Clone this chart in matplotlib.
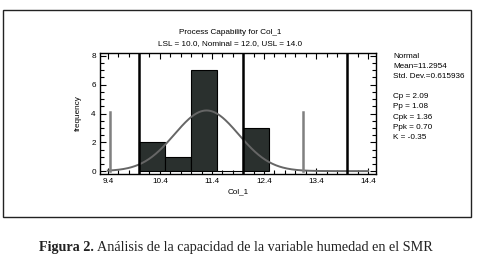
import numpy as np
import matplotlib.pyplot as plt
from matplotlib.ticker import MultipleLocator, FixedLocator
from matplotlib.patches import Rectangle

# histogram of Col_1
bin_edges = [10.0, 10.5, 11.0, 11.5, 12.0, 12.5]
counts = [2, 1, 7, 0, 3]
mean = 11.2954
std = 0.615936
n_obs = 13
spec_lines = [10.0, 12.0, 14.0]      # LSL, Nominal, USL
sigma_lines = [mean - 3 * std, mean + 3 * std]
xticks = [9.4, 10.4, 11.4, 12.4, 13.4, 14.4]
stats_text = ["Normal", "Mean=11.2954", "Std. Dev.=0.615936", "",
              "Cp = 2.09", "Pp = 1.08", "Cpk = 1.36", "Ppk = 0.70", "K = -0.35"]

W, H = 488, 266
fig = plt.figure(figsize=(W / 100, H / 100), dpi=100)
fig.patch.set_facecolor('white')

# frame around the chart
fig.add_artist(Rectangle((3 / W, 1 - 217 / H), 468 / W, 207 / H,
                         transform=fig.transFigure, fill=False,
                         edgecolor='#222222', linewidth=1.0))

ax = fig.add_axes([100 / W, 1 - 174 / H, 276 / W, 121 / H])
font = {'family': 'Liberation Sans', 'size': 5.9}

widths = np.diff(bin_edges)
ax.bar(bin_edges[:-1], counts, width=widths, align='edge',
       color='#2a302e', edgecolor='black', linewidth=0.8, zorder=2)

xs = np.linspace(9.4, 14.4, 300)
pdf = n_obs * 0.5 / (std * np.sqrt(2 * np.pi)) * np.exp(-0.5 * ((xs - mean) / std) ** 2)
ax.plot(xs, pdf, color='#666666', linewidth=1.4, zorder=3)

for v in sigma_lines:
    ax.plot([v, v], [0, 4.1], color='#808080', linewidth=1.8, zorder=3)
for v in spec_lines:
    ax.axvline(v, color='black', linewidth=1.8, zorder=4)

ax.set_xlim(9.25, 14.55)
ax.set_ylim(-0.2, 8.2)
ax.xaxis.set_major_locator(FixedLocator(xticks))
ax.xaxis.set_minor_locator(MultipleLocator(0.2))
ax.yaxis.set_major_locator(MultipleLocator(2))
ax.yaxis.set_minor_locator(MultipleLocator(0.5))
ax.tick_params(which='both', direction='in', top=True, right=True,
               width=0.8, labelsize=5.9, pad=3)
ax.tick_params(which='major', length=4)
ax.tick_params(which='minor', length=3)
ax.set_xticklabels([f"{t:.1f}" for t in xticks], fontdict=font)
ax.set_yticks([0, 2, 4, 6, 8])
ax.set_yticklabels(["0", "2", "4", "6", "8"], fontdict=font)
for s in ax.spines.values():
    s.set_linewidth(1.0)

ax.set_xlabel("Col_1", fontdict=font, labelpad=2)
ax.set_ylabel("frequency", fontdict=font, labelpad=7)

fig.text(230 / W, 1 - 33 / H, "Process Capability for Col_1", ha='center', va='center', **font)
fig.text(230 / W, 1 - 44 / H, "LSL = 10.0, Nominal = 12.0, USL = 14.0", ha='center', va='center', **font)

y0 = 56
for i, line in enumerate(stats_text):
    if line:
        fig.text(393 / W, 1 - (y0 + i * 10.2) / H, line, ha='left', va='center', **font)

# caption: bold label, then the rest right after it
cap = fig.text(39 / W, 1 - 248 / H, "Figura 2.", ha='left', va='center',
               family='Liberation Serif', size=10.2, weight='bold', color='#222222')
fig.canvas.draw()
bb = cap.get_window_extent(fig.canvas.get_renderer())
fig.text((bb.x1 + 3) / W, 1 - 248 / H,
         "Análisis de la capacidad de la variable humedad en el SMR",
         ha='left', va='center', family='Liberation Serif', size=10.2, color='#222222')

fig.savefig('out.png', dpi=100)
